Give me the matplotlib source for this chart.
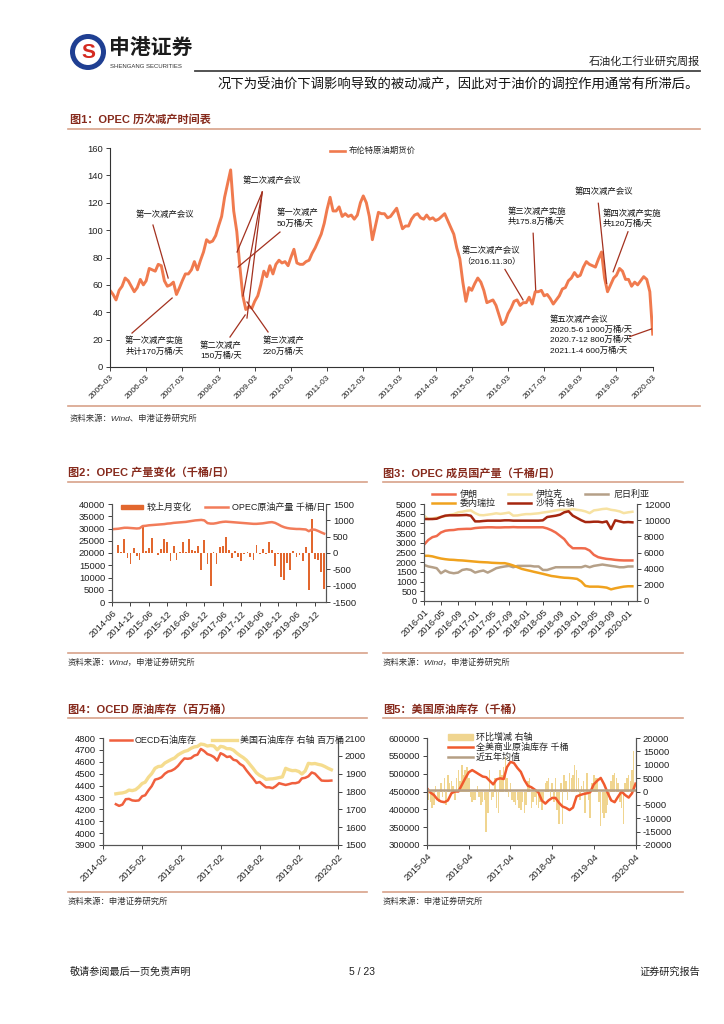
import matplotlib
matplotlib.use('Agg')
import matplotlib.pyplot as plt
import matplotlib.dates as mdates
from matplotlib.patches import Circle, Rectangle
import pandas as pd
from datetime import datetime, timedelta

plt.rcParams['font.family'] = ['Liberation Sans', 'Noto Sans CJK SC', 'DejaVu Sans']
plt.rcParams['axes.unicode_minus'] = False

# ---------------- DATA ----------------
# Fig1: Brent futures price (monthly, 2005-03 .. 2020-03)
brent_start, brent_end = '2005-03-01', '2020-03-01'
brent_values = [
    56, 53, 49, 56, 59, 65, 63, 59, 55, 58,
    64, 60, 63, 72, 71, 70, 75, 74, 63, 59, 60, 62,
    53, 58, 63, 68, 68, 71, 77, 71, 78, 84, 93, 91,
    92, 96, 103, 110, 124, 134, 144, 114, 99, 74, 52, 42,
    44, 43, 48, 52, 60, 70, 66, 74, 68, 75, 78, 76,
    77, 74, 80, 86, 76, 75, 75, 77, 78, 83, 87, 92,
    97, 105, 115, 124, 114, 114, 117, 110, 112, 110, 111, 108,
    111, 120, 125, 120, 110, 93, 103, 113, 112, 112, 109, 110,
    113, 116, 109, 101, 103, 103, 108, 111, 112, 109, 108, 111,
    108, 109, 107, 108, 110, 112, 107, 102, 97, 87, 79, 62,
    48, 58, 56, 61, 65, 62, 56, 47, 48, 49, 45, 38,
    31, 33, 39, 43, 48, 49, 45, 47, 47, 51, 46, 55,
    55, 56, 52, 53, 50, 46, 49, 52, 57, 58, 63, 65,
    69, 66, 67, 73, 77, 75, 74, 73, 79, 84, 65, 55,
    60, 65, 67, 72, 70, 64, 64, 59, 62, 60, 63, 66,
    64, 55, 24]
brent_legend = '布伦特原油期货价'

# Fig2: OPEC crude production (left, kb/d) and monthly change (right)
opec_start, opec_end = '2014-06-01', '2020-03-01'
opec_prod = [
    29700, 29800, 29900, 30100, 30300, 30300, 30200, 30100, 30000, 30100,
    31000, 31100, 31300, 31400, 31500, 31600, 31700, 31800, 32000, 32100,
    32300, 32400, 32500, 32600, 32700, 32900, 33100, 33300, 33400, 33500,
    33300, 32200, 32000, 32000, 32200, 32500, 32700, 32800, 32700, 32600,
    32500, 32400, 32300, 32200, 32100, 32000, 31900, 31900, 32000, 32100,
    32300, 32500, 32600, 32300, 31700, 31000, 30500, 30200, 30000, 29900,
    29800, 29800, 29700, 29600, 28900, 29600, 29500, 29000, 28400, 27900]
chg_start, chg_end = '2014-08-01', '2020-03-01'
opec_change = [
    260, 40, 440, -156, -343, 146, -83, -208, 853, 73, 146, 458, 10, -50,
    125, 427, 333, -240, 229, -218, 20, 333, 20, 427, 94, 50, 208, -520,
    406, -343, -1020, 40, -322, 198, 229, 479, 94, -166, 73, -114, -240,
    -20, 20, -135, -218, 260, -31, 125, -40, 333, 104, -395, -40, -738,
    -832, -291, -530, 52, -135, -52, -239, 177, -1123, 1030, -187, -208,
    -582, -1100]
fig2_legend = ['较上月变化', 'OPEC原油产量 千桶/日']

# Fig3: OPEC members production (monthly 2016-01 .. 2020-02)
mem_start, mem_end = '2016-01-01', '2020-02-01'
iran = [2900, 3150, 3290, 3350, 3530, 3620, 3650, 3660, 3700, 3710, 3720, 3720,
        3760, 3780, 3790, 3800, 3800, 3790, 3790, 3800, 3800, 3810, 3800, 3800,
        3800, 3800, 3800, 3800, 3800, 3740, 3650, 3530, 3360, 3190, 2900, 2720,
        2720, 2720, 2710, 2600, 2380, 2260, 2210, 2170, 2150, 2120, 2100, 2090,
        2090, 2090]
iraq = [4400, 4220, 4250, 4300, 4330, 4370, 4440, 4480, 4570, 4600, 4650, 4670,
        4530, 4430, 4420, 4450, 4480, 4520, 4490, 4520, 4560, 4400, 4410, 4450,
        4480, 4480, 4500, 4520, 4560, 4590, 4620, 4670, 4700, 4700, 4700, 4740,
        4700, 4670, 4620, 4530, 4670, 4700, 4740, 4760, 4700, 4670, 4620, 4530,
        4570, 4600]
nigeria = [1860, 1780, 1740, 1690, 1430, 1570, 1470, 1430, 1465, 1600, 1640, 1600,
           1465, 1530, 1570, 1465, 1570, 1690, 1740, 1780, 1810, 1740, 1810, 1810,
           1810, 1810, 1780, 1780, 1600, 1600, 1670, 1740, 1740, 1740, 1740, 1740,
           1740, 1740, 1810, 1740, 1810, 1845, 1880, 1845, 1810, 1780, 1740, 1740,
           1780, 1780]
venezuela = [2330, 2330, 2300, 2240, 2190, 2155, 2130, 2120, 2100, 2090, 2070, 2050,
             2030, 2010, 2000, 1990, 1970, 1960, 1950, 1950, 1900, 1830, 1740, 1655,
             1600, 1550, 1500, 1450, 1400, 1345, 1290, 1260, 1225, 1200, 1190, 1170,
             1140, 1000, 780, 740, 740, 740, 720, 690, 600, 655, 700, 740,
             760, 760]
saudi = [10140, 10140, 10140, 10180, 10390, 10560, 10600, 10600, 10600, 10620, 10640, 10550,
         9850, 9850, 9900, 9940, 9940, 9940, 9940, 9980, 9980, 9940, 9940, 9940,
         9940, 9940, 9940, 9940, 9980, 10390, 10470, 10550, 10680, 10970, 11100, 10560,
         10270, 9980, 9770, 9770, 9810, 9810, 9730, 9850, 8900, 9980, 9850, 9730,
         9770, 9730]
fig3_names = ['伊朗', '伊拉克', '尼日利亚', '委内瑞拉', '沙特 右轴']

# Fig4: OECD crude inventory (left) and US (right), monthly 2014-06 .. 2019-12
inv_start, inv_end = '2014-06-01', '2019-12-01'
oecd = [4243, 4229, 4240, 4285, 4288, 4275, 4272, 4275, 4310, 4318, 4360, 4395,
        4450, 4457, 4470, 4500, 4518, 4525, 4540, 4565, 4600, 4628, 4625, 4630,
        4652, 4660, 4708, 4690, 4665, 4655, 4640, 4610, 4672, 4660, 4640, 4645,
        4617, 4610, 4582, 4565, 4527, 4492, 4460, 4422, 4430, 4408, 4385, 4385,
        4378, 4395, 4420, 4412, 4405, 4412, 4420, 4420, 4428, 4460, 4465, 4478,
        4510, 4500, 4470, 4442, 4440, 4440, 4442]
us_inv = [1787, 1790, 1792, 1797, 1808, 1805, 1810, 1825, 1845, 1852, 1880, 1900,
          1930, 1940, 1942, 1960, 1970, 1980, 1988, 2005, 2016, 2025, 2030, 2042,
          2050, 2053, 2066, 2063, 2055, 2058, 2055, 2034, 2053, 2050, 2040, 2040,
          2032, 2016, 2002, 1990, 1975, 1952, 1930, 1905, 1890, 1882, 1868, 1870,
          1871, 1874, 1878, 1882, 1930, 1922, 1917, 1918, 1912, 1898, 1915, 1958,
          1955, 1957, 1952, 1948, 1940, 1930, 1922]
fig4_legend = ['OECD石油库存', '美国石油库存 右轴 百万桶']

# Fig5: US commercial crude inventory (monthly) and changes (twice a month)
us_start, us_end = '2015-04-01', '2020-04-01'
us_comm = [459000, 447000, 440000, 428000, 422000, 420000, 425000, 445000, 450000, 450000,
           469000, 487000, 504000, 510000, 504000, 498000, 492000, 490000, 480000, 470000,
           484000, 487000, 485000, 518000, 533000, 530000, 516000, 505000, 482000, 466000,
           462000, 455000, 448000, 425000, 416000, 425000, 432000, 432000, 418000, 408000,
           404000, 398000, 405000, 436000, 440000, 443000, 445000, 448000, 470000, 480000,
           488000, 470000, 446000, 425000, 420000, 436000, 450000, 440000, 433000, 445000,
           472000]
us_change = [12000, -3000, -4000, -6000, -5000, 2000, -3000, -4000, 3000, -2000,
             5000, -5000, 6000, 3000, 4000, 2000, -3000, 5000, 8000, 4000,
             10000, 6000, 8000, 9000, 5000, -2000, -4000, -3000, -3000, 2000,
             -2000, -5000, -4000, -3000, -15000, -8000, 8000, -3000, -2000, 5000,
             -6000, -8000, 8000, 6000, 9000, 13000, 5000, -2000, 3000, -3000,
             -4000, -5000, -3000, -6000, -7000, -4000, -8000, -5000, 4000, 5000,
             -6000, -4000, -2000, -5000, -6000, -4000, -7000, -3000, 3000, 4000,
             5000, -2000, 3000, -4000, 5000, -7000, -12000, 3000, -12000, 6000,
             4000, -3000, 7000, 5000, 6000, 10000, 8000, 5000, -3000, 2000,
             4000, -8000, 7000, -3000, -10000, 3000, 6000, 5000, 5000, -4000,
             -13000, -8000, -10000, -8000, -5000, -3000, 4000, 6000, 7000, 5000,
             3000, -4000, -6000, -12000, 3000, 5000, 6000, 4000, 8000, 15000]
avg5 = 455000
fig5_legend = ['环比增减 右轴', '全美商业原油库存 千桶', '近五年均值']

# ---------------- LAYOUT ----------------
W, H = 724, 1024
fig = plt.figure(figsize=(W / 100, H / 100), dpi=100)

def ax_px(l, t, r, b):
    return fig.add_axes([l / W, 1 - b / H, (r - l) / W, (b - t) / H])

ov = fig.add_axes([0, 0, 1, 1], zorder=20)
ov.set_xlim(0, W); ov.set_ylim(H, 0); ov.axis('off'); ov.patch.set_alpha(0)

def T(x, y, s, **kw):
    kw.setdefault('va', 'center')
    ov.text(x, y, s, **kw)

def L(x1, y1, x2, y2, **kw):
    ov.plot([x1, x2], [y1, y2], **kw)

TITLE_C = '#862a1c'
RULE_C = '#d8a28a'
SRC_KW = dict(fontsize=6, style='italic', color='#333333')

# header
ov.add_patch(Circle((88, 52), 15.5, fill=False, ec='#1f3f92', lw=3.6))
T(88, 52.5, 'S', ha='center', fontsize=15, fontweight='bold', color='#d42a20')
T(109, 49, '申港证券', fontsize=15, fontweight='bold', color='#1c1c1c')
T(110, 66, 'SHENGANG SECURITIES', fontsize=4.3, color='#333333')
T(700, 61, '石油化工行业研究周报', ha='right', fontsize=8, color='#222222')
L(195, 71, 700, 71, color='#444444', lw=1.3)
T(699, 85, '况下为受油价下调影响导致的被动减产，因此对于油价的调控作用通常有所滞后。',
  ha='right', fontsize=9.6, color='#111111')

# footer
T(70, 972, '敬请参阅最后一页免责声明', fontsize=7.3, color='#222222')
T(362, 972, '5 / 23', ha='center', fontsize=7.5, color='#222222')
T(700, 972, '证券研究报告', ha='right', fontsize=7.3, color='#222222')


def style_ax(ax, spines=('left', 'bottom'), sc='#555555'):
    for s in ax.spines:
        ax.spines[s].set_visible(s in spines)
        ax.spines[s].set_color(sc)
        ax.spines[s].set_linewidth(0.8)
    ax.tick_params(direction='out', length=3, width=0.6, pad=2, labelsize=6.8, colors='#222222')
    ax.patch.set_alpha(0)


def date_ticks(ax, ticks, fs=6.8):
    ax.set_xticks(ticks)
    ax.set_xticklabels([d.strftime('%Y-%m') for d in ticks], rotation=45, ha='right',
                       rotation_mode='anchor', fontsize=fs)


def yr(v):
    y = int(v)
    return mdates.date2num(datetime(y, 1, 1) + timedelta(days=(v - y) * 365.25))

# ---------------- FIG 1 ----------------
T(70, 119, '图1：OPEC 历次减产时间表', fontsize=8, fontweight='bold', color=TITLE_C)
L(68, 129, 700, 129, color=RULE_C, lw=1.2)
L(68, 406, 700, 406, color=RULE_C, lw=1.2)
T(70, 419, '资料来源：Wind、申港证券研究所', **SRC_KW)

ax1 = ax_px(110, 148, 653, 367)
style_ax(ax1, sc='#333333')
d1 = pd.date_range(brent_start, brent_end, freq='MS')
ax1.plot(d1, brent_values, color='#f07a4e', lw=2.1)
ax1.set_ylim(0, 160)
ax1.set_yticks(range(0, 161, 20))
ax1.set_xlim(pd.Timestamp(brent_start), pd.Timestamp(brent_end) + pd.Timedelta(days=3))
date_ticks(ax1, pd.date_range(brent_start, brent_end, freq='12MS'), fs=6)
L(330, 151, 345, 151, color='#f07a4e', lw=1.9)
T(349, 151, brent_legend, fontsize=6, color='#222222')

ANN_C = '#a3311f'
annotations = [
    ('第一次减产会议', 2005.86, 111, [(2006.35, 103.7, 2006.77, 65)]),
    ('第一次减产实施\n共计170万桶/天', 2005.58, 15.3, [(2005.77, 24.8, 2006.88, 50.4)]),
    ('第二次减产会议', 2008.84, 135.9, [(2009.37, 127.8, 2008.675, 84),
                                  (2009.37, 127.8, 2008.84, 51.9),
                                  (2009.37, 127.8, 2008.95, 35.8)]),
    ('第一次减产\n50万桶/天', 2009.78, 108.8, [(2009.86, 98.6, 2008.70, 73)]),
    ('第二次减产\n150万桶/天', 2007.65, 11.7, [(2008.48, 21.9, 2008.90, 38)]),
    ('第三次减产\n220万桶/天', 2009.39, 15.3, [(2009.53, 25.6, 2008.95, 47.5)]),
    ('第二次减产会议\n（2016.11.30）', 2014.89, 81, [(2016.08, 71.3, 2016.58, 49)]),
    ('第三次减产实施\n共175.8万桶/天', 2016.16, 109.6, [(2016.86, 97.7, 2016.93, 56.2)]),
    ('第四次减产会议', 2018.01, 127.8, [(2018.66, 119.6, 2018.89, 61.1)]),
    ('第四次减产实施\n共120万桶/天', 2018.79, 108.5, [(2019.48, 98.8, 2019.07, 69.6)]),
    ('第五次减产会议\n2020.5-6 1000万桶/天\n2020.7-12 800万桶/天\n2021.1-4 600万桶/天',
     2017.32, 23.4, [(2019.53, 22.2, 2020.13, 27.8)]),
]
for txt, tx, ty, segs in annotations:
    ax1.text(yr(tx), ty, txt, fontsize=6, color='#111111', va='center', ha='left',
             linespacing=1.35)
    for x1, y1, x2, y2 in segs:
        ax1.plot([yr(x1), yr(x2)], [y1, y2], color=ANN_C, lw=0.9, clip_on=False)

# ---------------- FIG 2 ----------------
T(68, 473, '图2：OPEC 产量变化（千桶/日）', fontsize=8, fontweight='bold', color=TITLE_C)
L(68, 482, 367, 482, color=RULE_C, lw=1.2)
L(68, 653, 367, 653, color=RULE_C, lw=1.2)
T(68, 663, '资料来源：Wind，申港证券研究所', **SRC_KW)

ax2 = ax_px(112, 504, 326, 602)
ax2b = ax2.twinx()
style_ax(ax2, spines=('left', 'bottom', 'right'))
style_ax(ax2b, spines=('left', 'bottom', 'right'))
ax2b.bar(pd.date_range(chg_start, chg_end, freq='MS'), opec_change, width=18, color='#e2672e')
ax2.plot(pd.date_range(opec_start, opec_end, freq='MS'), opec_prod, color='#f27c5a', lw=1.8)
ax2.set_zorder(ax2b.get_zorder() + 1)
ax2.set_ylim(0, 40000); ax2.set_yticks(range(0, 40001, 5000))
ax2b.set_ylim(-1500, 1500); ax2b.set_yticks(range(-1500, 1501, 500))
ax2.set_xlim(pd.Timestamp(opec_start), pd.Timestamp(opec_end) + pd.Timedelta(days=18))
date_ticks(ax2, pd.date_range(opec_start, '2019-12-01', freq='6MS'))
ov.add_patch(Rectangle((121, 504.5), 22, 4.5, color='#e2672e'))
T(147, 507, fig2_legend[0], fontsize=6.5, color='#222222')
L(205, 507, 228, 507, color='#f27c5a', lw=1.8)
T(232, 507, fig2_legend[1], fontsize=6.5, color='#222222')

# ---------------- FIG 3 ----------------
T(383, 473, '图3：OPEC 成员国产量（千桶/日）', fontsize=8, fontweight='bold', color=TITLE_C)
L(383, 482, 683, 482, color=RULE_C, lw=1.2)
L(383, 653, 683, 653, color=RULE_C, lw=1.2)
T(383, 663, '资料来源：Wind，申港证券研究所', **SRC_KW)

ax3 = ax_px(424, 504, 637, 601)
ax3b = ax3.twinx()
style_ax(ax3, spines=('left', 'bottom', 'right'))
style_ax(ax3b, spines=('left', 'bottom', 'right'))
d3 = pd.date_range(mem_start, mem_end, freq='MS')
c3 = ['#f06b4c', '#f7e2a2', '#b5a088', '#f0a21e', '#a5260f']
ax3.plot(d3, iraq, color=c3[1], lw=1.8)
ax3.plot(d3, nigeria, color=c3[2], lw=1.8)
ax3.plot(d3, venezuela, color=c3[3], lw=1.8)
ax3.plot(d3, iran, color=c3[0], lw=1.8)
ax3b.plot(d3, saudi, color=c3[4], lw=1.8)
ax3.set_ylim(0, 5000); ax3.set_yticks(range(0, 5001, 500))
ax3b.set_ylim(0, 12000); ax3b.set_yticks(range(0, 12001, 2000))
ax3.set_xlim(pd.Timestamp(mem_start), pd.Timestamp('2020-03-05'))
date_ticks(ax3, pd.date_range(mem_start, '2020-01-01', freq='4MS'))
leg3 = [(432, 494), (508, 494), (585, 494), (432, 503), (508, 503)]
for (lx, ly), nm, cc in zip(leg3, fig3_names, c3):
    L(lx, ly, lx + 23, ly, color=cc, lw=1.8)
    T(lx + 28, ly, nm, fontsize=6.5, color='#222222')

# ---------------- FIG 4 ----------------
T(68, 710, '图4：OCED 原油库存（百万桶）', fontsize=8, fontweight='bold', color=TITLE_C)
L(68, 718, 367, 718, color=RULE_C, lw=1.2)
L(68, 892, 367, 892, color=RULE_C, lw=1.2)
T(68, 902, '资料来源：申港证券研究所', **SRC_KW)

ax4 = ax_px(103, 738, 338, 845)
ax4b = ax4.twinx()
style_ax(ax4, spines=('left', 'bottom', 'right'))
style_ax(ax4b, spines=('left', 'bottom', 'right'))
d4 = pd.date_range(inv_start, inv_end, freq='MS')
ax4b.plot(d4, us_inv, color='#f5dc8e', lw=2.4)
ax4.plot(d4, oecd, color='#f0603e', lw=1.8)
ax4.set_zorder(ax4b.get_zorder() + 1)
ax4.set_ylim(3900, 4800); ax4.set_yticks(range(3900, 4801, 100))
ax4b.set_ylim(1500, 2100); ax4b.set_yticks(range(1500, 2101, 100))
ax4.set_xlim(pd.Timestamp('2014-02-01'), pd.Timestamp('2020-02-01'))
date_ticks(ax4, pd.date_range('2014-02-01', '2020-02-01', freq='12MS'))
L(110, 740, 132, 740, color='#f0603e', lw=1.8)
T(135, 740, fig4_legend[0], fontsize=6.5, color='#222222')
L(212, 740, 237, 740, color='#f5dc8e', lw=2.4)
T(240, 740, fig4_legend[1], fontsize=6.5, color='#222222')

# ---------------- FIG 5 ----------------
T(383, 710, '图5：美国原油库存（千桶）', fontsize=8, fontweight='bold', color=TITLE_C)
L(383, 718, 683, 718, color=RULE_C, lw=1.2)
L(383, 892, 683, 892, color=RULE_C, lw=1.2)
T(383, 902, '资料来源：申港证券研究所', **SRC_KW)

ax5 = ax_px(427, 738, 636, 845)
ax5b = ax5.twinx()
style_ax(ax5, spines=('left', 'bottom', 'right'))
style_ax(ax5b, spines=('left', 'bottom', 'right'))
m5 = pd.date_range(us_start, '2020-03-01', freq='MS')
half = [d + pd.Timedelta(days=k) for d in m5 for k in (0, 15)]
ax5b.bar(half, us_change, width=13, color='#f0d590')
d5 = pd.date_range(us_start, us_end, freq='MS')
ax5.plot(d5, us_comm, color='#f05a2e', lw=1.8)
ax5.plot(d5, [avg5] * len(d5), color='#b59f84', lw=1.8)
ax5.set_zorder(ax5b.get_zorder() + 1)
ax5.set_ylim(300000, 600000); ax5.set_yticks(range(300000, 600001, 50000))
ax5b.set_ylim(-20000, 20000); ax5b.set_yticks(range(-20000, 20001, 5000))
ax5.set_xlim(pd.Timestamp(us_start), pd.Timestamp(us_end) + pd.Timedelta(days=4))
date_ticks(ax5, pd.date_range(us_start, us_end, freq='12MS'))
ov.add_patch(Rectangle((448, 734), 25, 6, color='#f0d590'))
T(476, 737, fig5_legend[0], fontsize=6.5, color='#222222')
L(448, 747, 473, 747, color='#f05a2e', lw=1.8)
T(476, 747, fig5_legend[1], fontsize=6.5, color='#222222')
L(448, 757, 473, 757, color='#b59f84', lw=1.8)
T(476, 757, fig5_legend[2], fontsize=6.5, color='#222222')

fig.savefig('out.png', dpi=100)
